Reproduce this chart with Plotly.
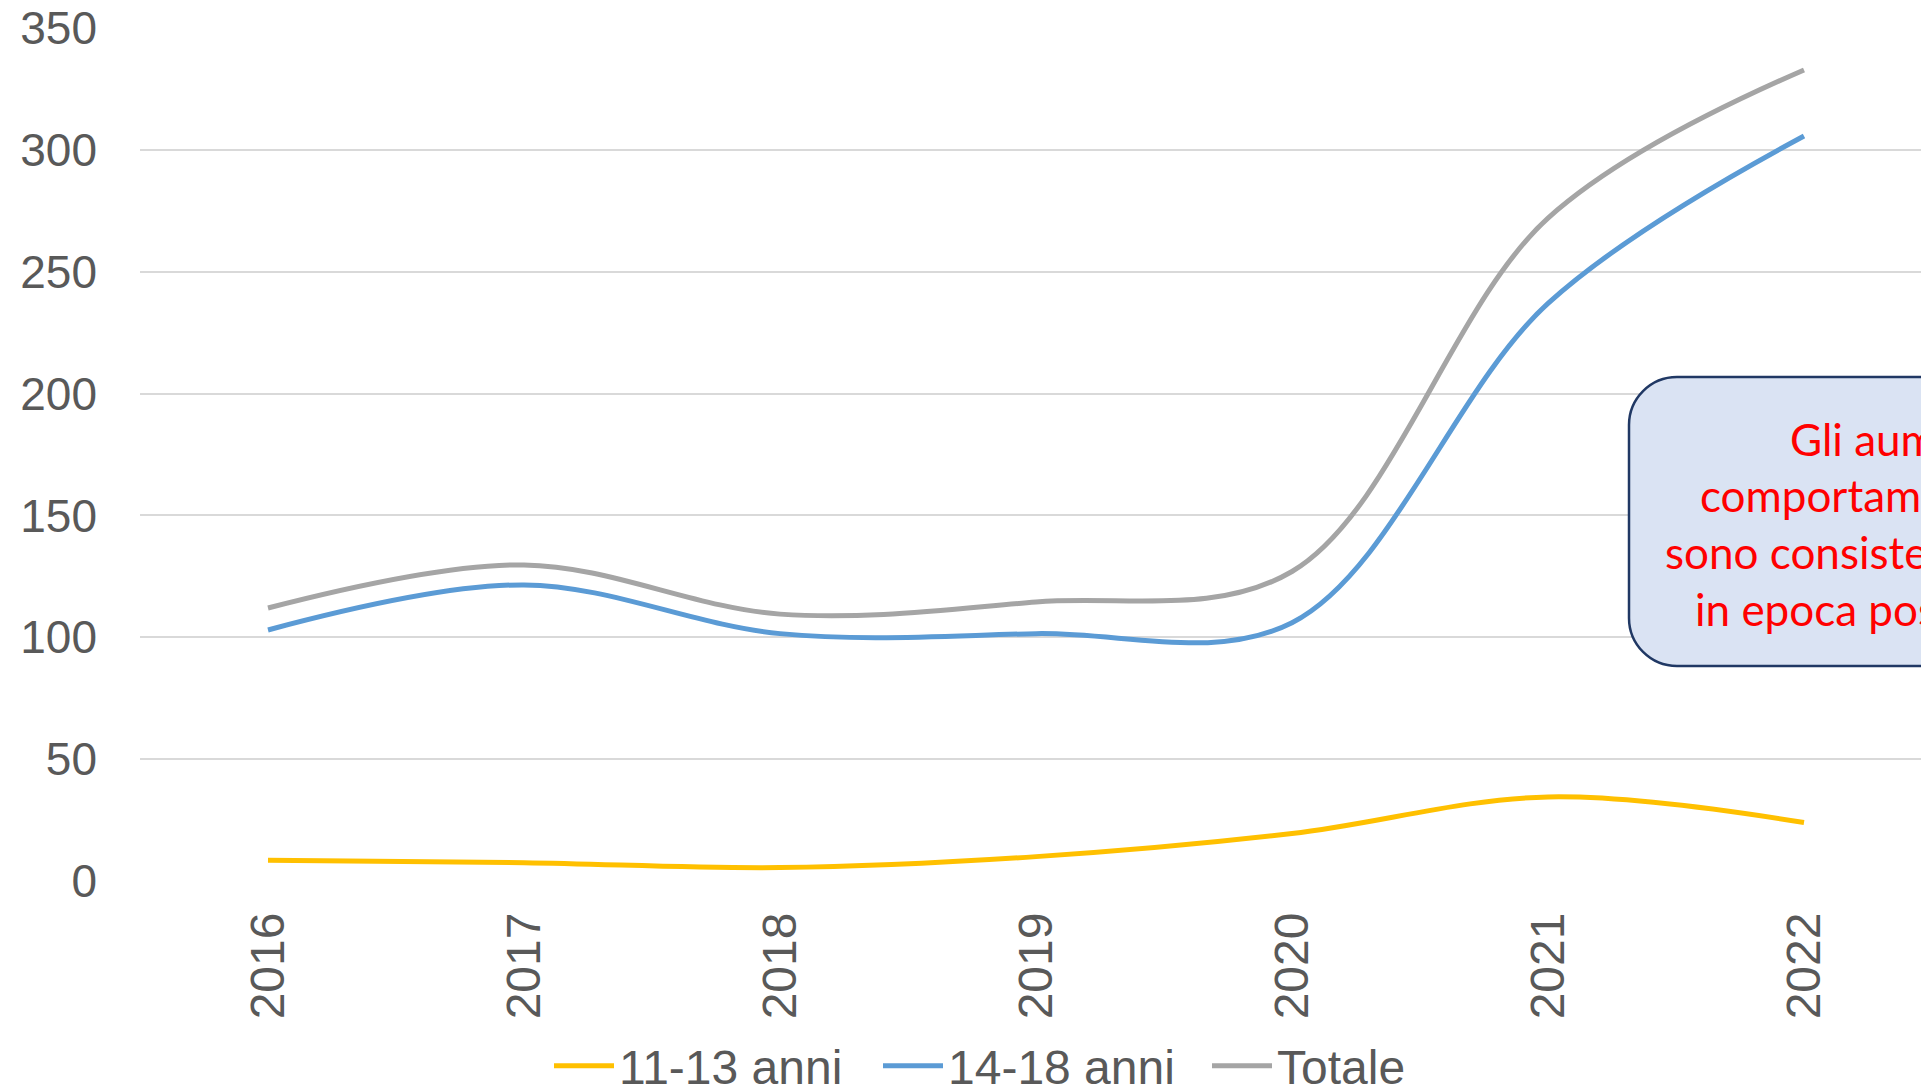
import plotly.graph_objects as go

# Dati: eventi per fascia d'età e anno
anni = [2016, 2017, 2018, 2019, 2020, 2021, 2022]
etichette_anni = [str(a) for a in anni]
eta_11_13 = [8.5, 7.5, 5.5, 10, 19.5, 34.5, 24]
eta_14_18 = [103, 121.5, 101.5, 101.5, 106, 237, 305.7]
totale = [112, 129.7, 109.5, 114.5, 127, 272, 332.8]
tick_y = [0, 50, 100, 150, 200, 250, 300, 350]

nomi_serie = ["11-13 anni", "14-18 anni", "Totale"]
valori_serie = [eta_11_13, eta_14_18, totale]
colori_serie = ["#FFC000", "#5B9BD5", "#A5A5A5"]

riquadro_righe = [
    "Gli aumenti di questi",
    "comportamenti a rischio",
    "sono consistenti soprattutto",
    "in epoca post-pandemica",
]

# Geometria della figura (pixel)
W, H = 1921, 1091
ML, MT, MB, MR = 140, 28, 210, 0
PW = W - ML - MR
PH = H - MT - MB
PX_ANNO = 256.0


def px_to_paper(px, py):
    return (px - ML) / PW, (H - MB - py) / PH


fig = go.Figure()
for nome, valori, colore in zip(nomi_serie, valori_serie, colori_serie):
    fig.add_trace(go.Scatter(
        x=anni, y=valori, name=nome, mode="lines",
        line=dict(color=colore, width=5, shape="spline", smoothing=1),
        hoverinfo="x+y+name",
    ))

# Riquadro arrotondato con il commento
L, T, B, R, r = 1629, 377, 666, 2250, 48
k = 0.5523


def pt(px, py):
    a, b = px_to_paper(px, py)
    return f"{a:.5f},{b:.5f}"


path = (
    f"M{pt(L, T + r)} "
    f"C{pt(L, T + r - k * r)} {pt(L + r - k * r, T)} {pt(L + r, T)} "
    f"L{pt(R, T)} L{pt(R, B)} L{pt(L + r, B)} "
    f"C{pt(L + r - k * r, B)} {pt(L, B - r + k * r)} {pt(L, B - r)} Z"
)
fig.add_shape(type="path", xref="paper", yref="paper", path=path,
              fillcolor="#DAE3F3", line=dict(color="#203864", width=2.5),
              layer="above")

righe_x = [1788, 1698, 1663, 1693]
righe_y = [439, 495, 552, 609]
for testo, rx, ry in zip(riquadro_righe, righe_x, righe_y):
    ax, ay = px_to_paper(rx, ry)
    fig.add_annotation(
        x=ax, y=ay, xref="paper", yref="paper", text=testo,
        showarrow=False, xanchor="left", yanchor="middle",
        font=dict(family="Lato, Carlito, sans-serif", size=44, color="#FF0000"),
    )

lx, ly = px_to_paper(549, 1066)
fig.update_layout(
    width=W, height=H,
    margin=dict(l=ML, r=MR, t=MT, b=MB, autoexpand=False),
    paper_bgcolor="white", plot_bgcolor="white",
    font=dict(family="Liberation Sans, Arial, sans-serif", color="#595959"),
    showlegend=True,
    legend=dict(
        orientation="h", x=lx, y=ly, xanchor="left", yanchor="middle",
        font=dict(size=48, color="#595959"),
        entrywidth=254, itemwidth=60, bgcolor="rgba(0,0,0,0)",
    ),
    xaxis=dict(
        range=[2015.5, 2015.5 + PW / PX_ANNO],
        tickmode="array", tickvals=anni, ticktext=etichette_anni,
        tickangle=-90, tickfont=dict(size=48, color="#595959"),
        showgrid=False, zeroline=False, showline=False, ticks="",
        ticklabelstandoff=21, fixedrange=True,
    ),
    yaxis=dict(
        range=[0, 350], tickmode="array", tickvals=tick_y,
        tickfont=dict(size=46, color="#595959"),
        showgrid=True, gridcolor="#D9D9D9", gridwidth=1.5,
        zeroline=False, showline=False, ticks="",
        ticklabelstandoff=42, fixedrange=True,
    ),
)

fig.write_html("out.html")
